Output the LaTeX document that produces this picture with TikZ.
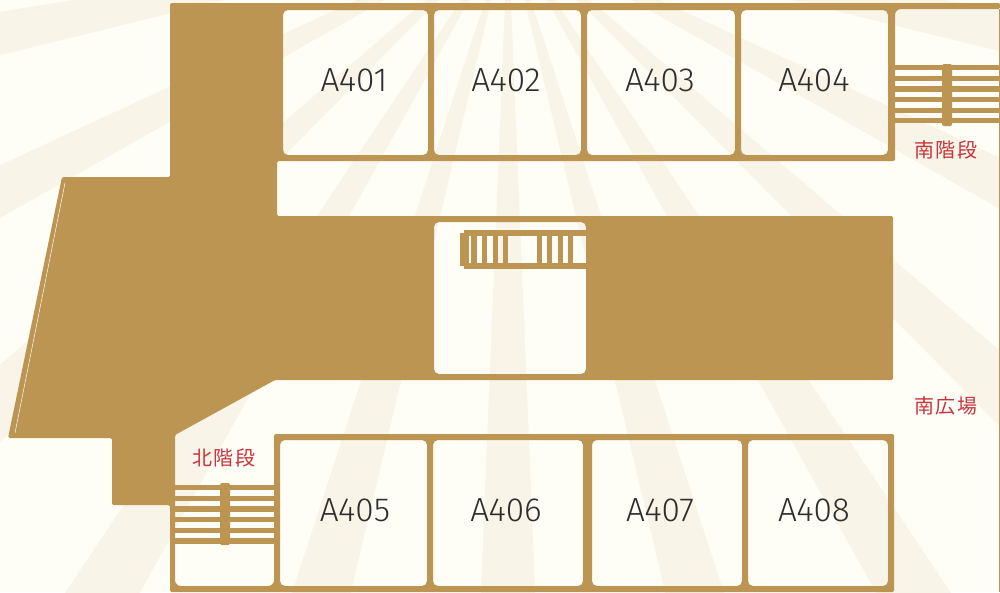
\documentclass[tikz,border=0pt]{standalone}
\usepackage{fontspec}
\setmainfont{Liberation Sans}
\newfontfamily\roomfont{Fira Sans Light}
\newfontfamily\cjk[LetterSpace=8]{Noto Sans CJK JP}
\definecolor{paper}{HTML}{FFFEF6}
\definecolor{ray}{HTML}{F8F4E7}
\definecolor{wall}{HTML}{BC9552}
\definecolor{inkred}{HTML}{C8343E}
\definecolor{ink}{HTML}{2E2E2E}
\tikzset{
	room/.style={text=ink,font=\roomfont\fontsize{33.4}{33.4}\selectfont,inner sep=0pt},
	place/.style={text=inkred,font=\cjk\fontsize{20}{20}\selectfont,inner sep=0pt},
	wallfill/.style={fill=wall,draw=none}
}

\begin{document}
\begin{tikzpicture}[x=1pt,y=-1pt]
	\fill[paper] (0,0) rectangle (1000,592);
	\coordinate (apex) at (508,-70);

	% rays
	\begin{scope}
		\clip (0,0) rectangle (1000,592);
		\foreach \k in {-5,...,5}{
			\fill[ray] (apex) -- +({90+\k*15.7-2.35}:1500) -- +({90+\k*15.7+2.35}:1500) -- cycle;
		}
	\end{scope}

	% walls, the rooms are holes
	\path[wallfill,even odd rule,rounded corners=1.5pt]
	(62,177) -- (170,177) -- (170,3) -- (1000,3) -- (1000,9)
	[rounded corners=6pt] -- (895,9) [rounded corners=1.5pt] -- (895,161) -- (277,161) -- (277,216) -- (893,216) -- (893,380)
	-- (275,380) -- (175,435) [rounded corners=6pt] -- (175,586) -- (274,586) [rounded corners=1.5pt] -- (274,434)
	-- (894,434) -- (894,592) -- (170,592) -- (170,505) -- (112,505) -- (112,438) -- (8,438) -- cycle
	[rounded corners=5pt]
	(283,10) rectangle (428,155)
	(434,10) rectangle (581,155)
	(587,10) rectangle (735,155)
	(741,10) rectangle (888,155)
	(434,222) rectangle (586,374)
	(280,440) rectangle (427,586)
	(433,440) rectangle (583,586)
	(592,440) rectangle (742,586)
	(748,440) rectangle (888,586);
	\draw[ray,line width=0.5pt] (65,183) -- (15,433);
	\fill[wall] (999.4,9) rectangle (1000,592);

	% south stairs
	\foreach \y in {65,75.7,86.3,97,107.5,118.2}{
		\fill[wall] (895,\y) rectangle (1000,\y+5.2);
	}
	\fill[wall,rounded corners=1.5pt] (942,64) rectangle (952,126);

	% north stairs
	\foreach \y in {485,495.7,506.3,517,527.7,538.4}{
		\fill[wall] (175,\y) rectangle (274,\y+5.3);
	}
	\fill[wall,rounded corners=1.5pt] (220,483) rectangle (230,545);

	% centre stairs
	\fill[wall] (460,233) rectangle (466,266);
	\fill[wall] (464,230) rectangle (586,236);
	\fill[wall] (464,263) rectangle (586,269);
	\foreach \x in {464,471.3,482,492.7,502.7,536.7,547,557.7,568}{
		\fill[wall] (\x,235) rectangle (\x+5.4,264);
	}

	\node[room] (A401) at (354,80) {A401};
	\node[room] (A402) at (506,80) {A402};
	\node[room] (A403) at (660,80) {A403};
	\node[room] (A404) at (814,80) {A404};
	\node[room] (A405) at (355,510) {A405};
	\node[room] (A406) at (506,510) {A406};
	\node[room] (A407) at (660,510) {A407};
	\node[room] (A408) at (814,510) {A408};
	\node[place] (south) at (946,150) {南階段};
	\node[place] (north) at (224,458) {北階段};
	\node[place] (plaza) at (946,406) {南広場};
\end{tikzpicture}
\end{document}
